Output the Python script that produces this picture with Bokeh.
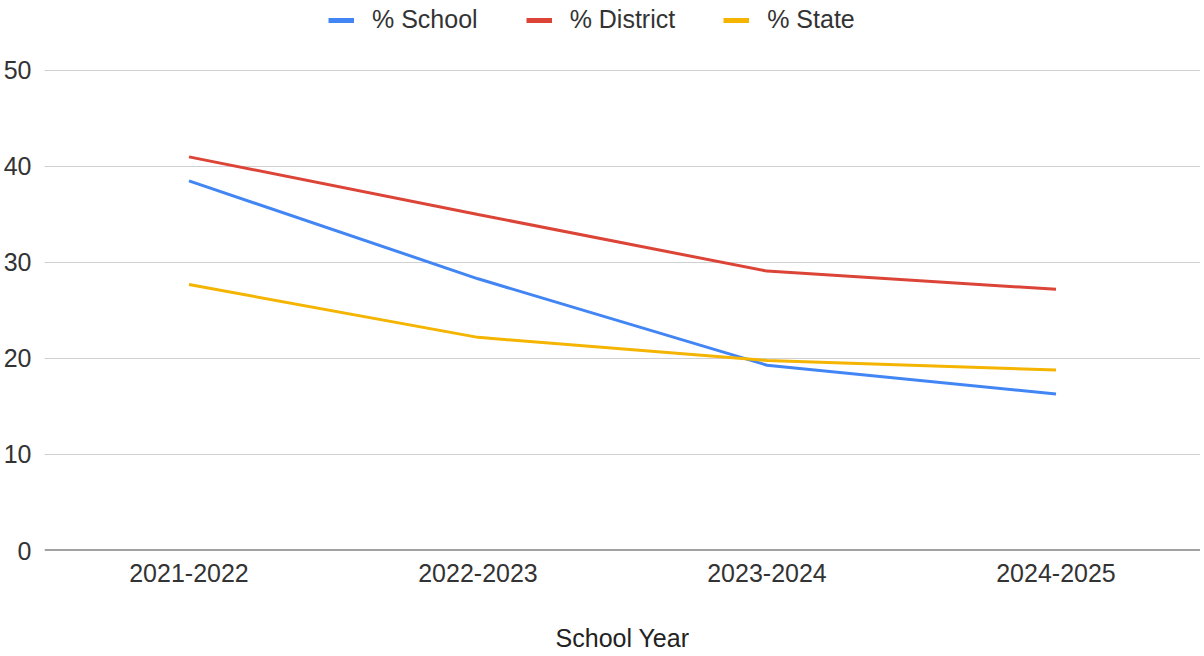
from bokeh.plotting import figure
from bokeh.layouts import column
from bokeh.models import FactorRange, Range1d, Legend, LegendItem, Span, FixedTicker
from bokeh.embed import file_html
from bokeh.resources import INLINE

years = ["2021-2022", "2022-2023", "2023-2024", "2024-2025"]
school = [38.5, 28.3, 19.3, 16.3]
district = [41.0, 35.0, 29.1, 27.2]
state = [27.7, 22.2, 19.8, 18.8]
series_names = ["% School", "% District", "% State"]
y_ticks = [0, 10, 20, 30, 40, 50]
x_title = "School Year"

colors = ["#4285F4", "#DB4437", "#F4B400"]
FONT = "Liberation Sans"
W = 1200
LEG_H = 40

# ---------- main chart ----------
p = figure(width=W, height=656 - LEG_H, output_backend="svg", toolbar_location=None,
           x_range=FactorRange(*years, range_padding=0, factor_padding=0),
           y_range=Range1d(0, 50.1))
p.min_border_left = 36
p.min_border_right = 0
p.min_border_top = 69 - LEG_H
p.min_border_bottom = 106
p.outline_line_color = None
p.background_fill_color = "white"

for vals, c in zip([school, district, state], colors):
    p.line(years, vals, line_color=c, line_width=3)

p.xgrid.grid_line_color = None
p.ygrid.grid_line_color = "#d0d0d0"
p.ygrid.grid_line_width = 1
p.yaxis.ticker = FixedTicker(ticks=y_ticks)

for ax in (p.xaxis[0], p.yaxis[0]):
    ax.axis_line_color = None
    ax.major_tick_line_color = None
    ax.minor_tick_line_color = None
    ax.major_label_text_font = FONT
    ax.major_label_text_font_size = "25px"
    ax.major_label_text_color = "#333333"

p.yaxis.major_label_standoff = 7
p.xaxis.major_label_standoff = 7
p.xaxis.axis_label = x_title
p.xaxis.axis_label_text_font = FONT
p.xaxis.axis_label_text_font_size = "25px"
p.xaxis.axis_label_text_font_style = "normal"
p.xaxis.axis_label_text_color = "#222222"
p.xaxis.axis_label_standoff = 39

p.add_layout(Span(location=0, dimension="width", line_color="#444444", line_width=2))

# ---------- legend strip (its lines sit outside the strip's visible range) ----------
lg = figure(width=W, height=LEG_H, output_backend="svg", toolbar_location=None,
            x_range=FactorRange(*years, range_padding=0, factor_padding=0),
            y_range=Range1d(1000, 1001),
            x_axis_type=None, y_axis_type=None)
lg.min_border_left = 0
lg.min_border_right = 0
lg.min_border_top = 0
lg.min_border_bottom = 0
lg.outline_line_color = None
lg.xgrid.visible = False
lg.ygrid.visible = False

leg_renderers = [lg.line(years, vals, line_color=c, line_width=5)
                 for vals, c in zip([school, district, state], colors)]

legend = Legend(items=[LegendItem(label=n, renderers=[r]) for n, r in zip(series_names, leg_renderers)],
                orientation="horizontal", location=(284, 6))
legend.border_line_color = None
legend.background_fill_alpha = 0
legend.padding = 0
legend.margin = 0
legend.spacing = 48
legend.glyph_width = 26
legend.glyph_height = 24
legend.label_standoff = 18
legend.label_text_font = FONT
legend.label_text_font_size = "25px"
legend.label_text_color = "#333333"
legend.label_height = 24
lg.add_layout(legend, "center")

layout = column(lg, p, spacing=0)
open("out.html", "w").write(file_html(layout, INLINE))
